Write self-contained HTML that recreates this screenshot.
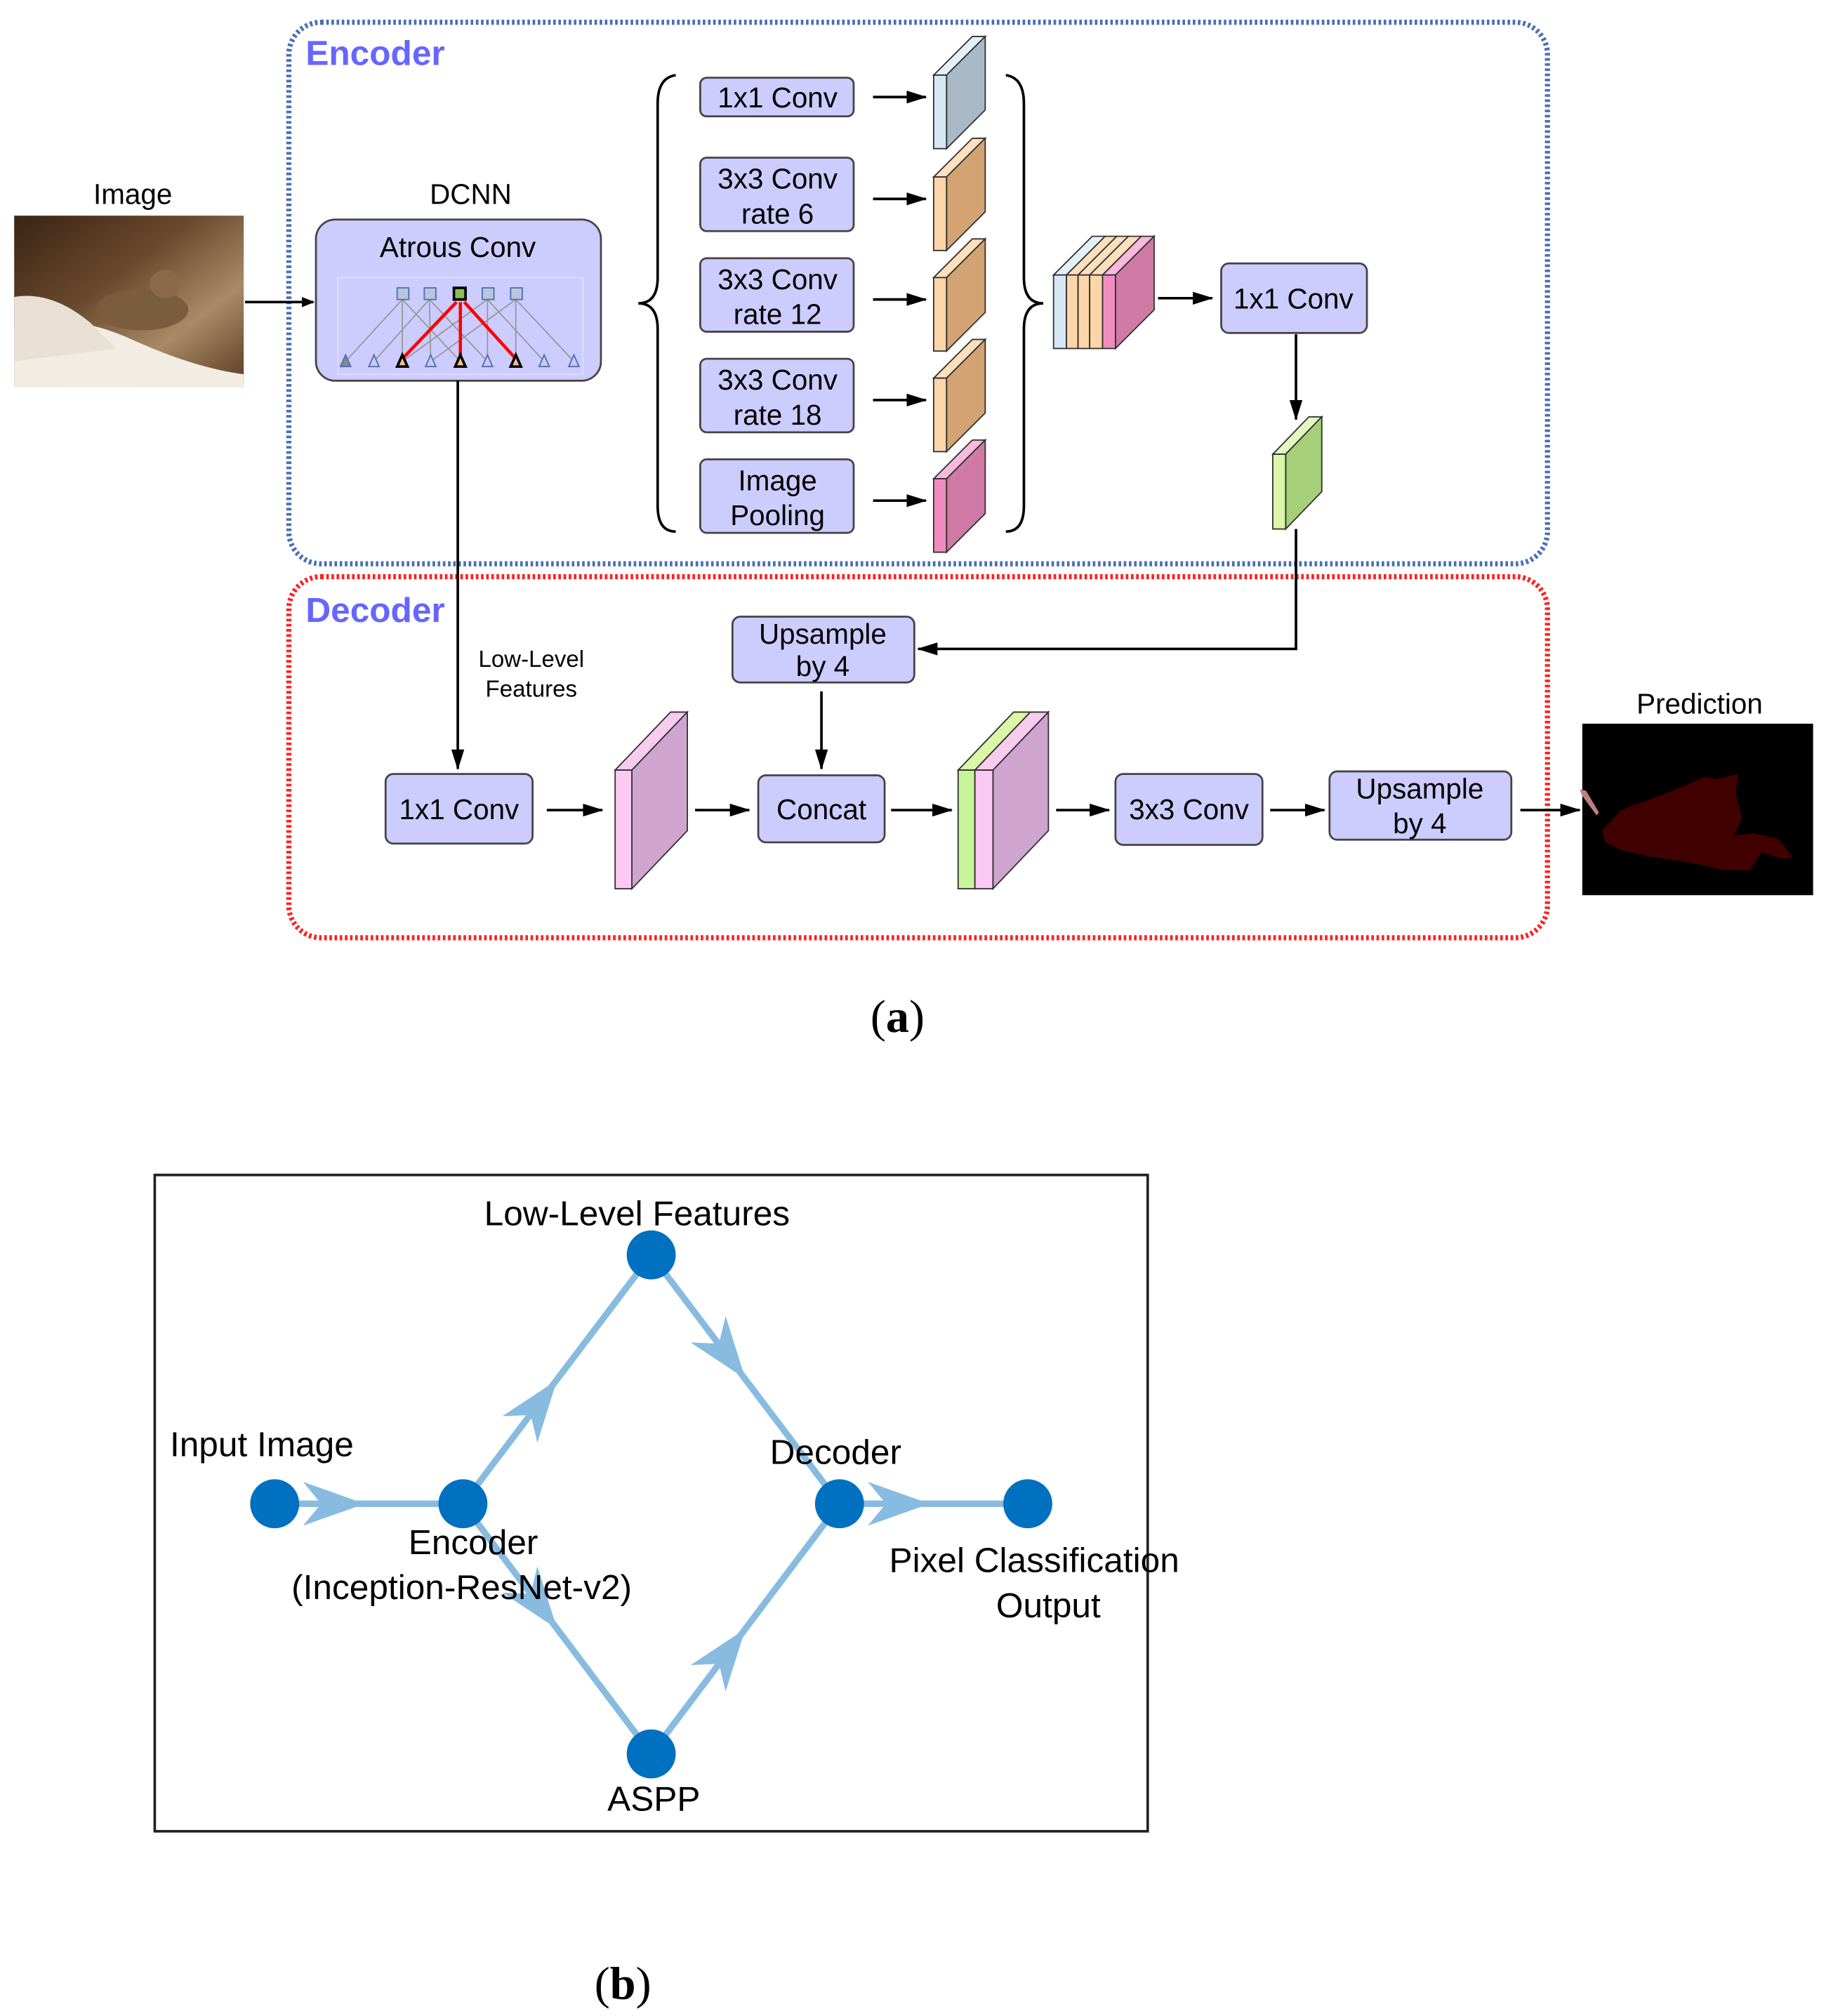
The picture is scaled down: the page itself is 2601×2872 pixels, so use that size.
<!DOCTYPE html>
<html><head><meta charset="utf-8"><style>
html,body{margin:0;padding:0;background:#fff;}
svg{display:block;}
text{font-family:"Liberation Sans",sans-serif;}
text.serif{font-family:"Liberation Serif",serif;}
</style></head><body>
<svg width="2601" height="2872" viewBox="0 0 1416 1563" xmlns="http://www.w3.org/2000/svg">
<defs>
<marker id="ah" markerWidth="10" markerHeight="10" refX="9" refY="5" orient="auto" markerUnits="userSpaceOnUse" viewBox="0 0 10 10">
<path d="M0,1 L10,5 L0,9 z" fill="#000"/></marker>
<marker id="ah2" markerWidth="16" markerHeight="10" refX="15" refY="5" orient="auto" markerUnits="userSpaceOnUse" viewBox="0 0 16 10">
<path d="M0,0 L16,5 L0,10 z" fill="#000"/></marker>
<linearGradient id="cat" x1="0" y1="0" x2="1" y2="1">
<stop offset="0" stop-color="#3a2414"/><stop offset="0.4" stop-color="#6a4a2e"/><stop offset="0.7" stop-color="#a88a66"/><stop offset="1" stop-color="#5a3a22"/></linearGradient>
</defs>

<rect x="224" y="17" width="976" height="420" rx="25" fill="none" stroke="#4a6fb5" stroke-width="4" stroke-dasharray="2 2"/>
<text x="237" y="50" font-size="27" font-weight="bold" fill="#6666ff">Encoder</text>
<rect x="224" y="447" width="976" height="280" rx="25" fill="none" stroke="#ff2020" stroke-width="4" stroke-dasharray="2 2"/>
<text x="237" y="482" font-size="27" font-weight="bold" fill="#6666ff">Decoder</text>

<text x="103" y="158" font-size="22" text-anchor="middle">Image</text>
<rect x="11" y="167" width="178" height="133" fill="url(#cat)"/>
<path d="M11,255 Q50,240 100,262 Q150,285 189,290 L189,300 L11,300z" fill="#f2ece2"/>
<path d="M11,230 Q40,225 70,250 L90,270 L11,280z" fill="#e8e0d4"/>
<ellipse cx="110" cy="240" rx="36" ry="16" fill="#7a5c3e"/>
<ellipse cx="128" cy="220" rx="12" ry="11" fill="#8a6a48"/>
<line x1="190" y1="234" x2="243" y2="234" stroke="#000" stroke-width="2" marker-end="url(#ah)"/>

<text x="365" y="158" font-size="22" text-anchor="middle">DCNN</text>
<rect x="245" y="170" width="221" height="125" rx="15" fill="#ccccff" stroke="#444" stroke-width="1.5"/>
<text x="355" y="199" font-size="22" text-anchor="middle">Atrous Conv</text>
<rect x="262" y="215" width="190" height="75" fill="none" stroke="#e0e0f4" stroke-width="1"/>
<g stroke="#999" stroke-width="1">
<line x1="268" y1="280" x2="312" y2="232"/><line x1="290" y1="280" x2="333" y2="232"/><line x1="312" y1="280" x2="312" y2="232"/><line x1="334" y1="280" x2="333" y2="232"/>
<line x1="312" y1="280" x2="378" y2="232"/><line x1="334" y1="280" x2="400" y2="232"/><line x1="378" y1="280" x2="378" y2="232"/><line x1="400" y1="280" x2="400" y2="232"/>
<line x1="357" y1="280" x2="312" y2="232"/><line x1="378" y1="280" x2="333" y2="232"/><line x1="422" y1="280" x2="378" y2="232"/><line x1="445" y1="280" x2="400" y2="232"/>
</g>
<g stroke="red" stroke-width="2.5"><line x1="312" y1="278" x2="354" y2="234"/><line x1="357" y1="278" x2="357" y2="234"/><line x1="400" y1="278" x2="360" y2="234"/></g>
<g fill="#bcc5dc" stroke="#4a6fb5" stroke-width="1"><rect x="308" y="223" width="9" height="9"/><rect x="329" y="223" width="9" height="9"/><rect x="374" y="223" width="9" height="9"/><rect x="396" y="223" width="9" height="9"/></g>
<rect x="352" y="223" width="9" height="9" fill="#8fbc50" stroke="#000" stroke-width="2"/>
<g stroke="#4a6fb5" stroke-width="1" fill="#d0c8ec">
<path d="M268,275 l-4,9 h8z" fill="#888"/><path d="M290,275 l-4,9 h8z"/><path d="M334,275 l-4,9 h8z"/><path d="M378,275 l-4,9 h8z"/><path d="M422,275 l-4,9 h8z"/><path d="M445,275 l-4,9 h8z"/>
</g>
<g stroke="#000" stroke-width="2" fill="#f6c08a"><path d="M312,275 l-4,9 h8z"/><path d="M357,275 l-4,9 h8z"/><path d="M400,275 l-4,9 h8z"/></g>

<path d="M524,58 Q510,60 510,80 L510,215 Q510,235 495,235 Q510,235 510,255 L510,392 Q510,412 524,412" fill="none" stroke="#000" stroke-width="2"/>
<path d="M780,58 Q794,60 794,80 L794,215 Q794,235 809,235 Q794,235 794,255 L794,392 Q794,412 780,412" fill="none" stroke="#000" stroke-width="2"/>

<g fill="#ccccff" stroke="#444" stroke-width="1.5">
<rect x="543" y="60" width="119" height="30" rx="5"/>
<rect x="543" y="122" width="119" height="57" rx="5"/>
<rect x="543" y="200" width="119" height="57" rx="5"/>
<rect x="543" y="278" width="119" height="57" rx="5"/>
<rect x="543" y="356" width="119" height="57" rx="5"/>
</g>
<g font-size="22" text-anchor="middle">
<text x="603" y="83">1x1 Conv</text>
<text x="603" y="146">3x3 Conv</text><text x="603" y="173">rate 6</text>
<text x="603" y="224">3x3 Conv</text><text x="603" y="251">rate 12</text>
<text x="603" y="302">3x3 Conv</text><text x="603" y="329">rate 18</text>
<text x="603" y="380">Image</text><text x="603" y="407">Pooling</text>
</g>
<g stroke="#000" stroke-width="2">
<line x1="677" y1="75" x2="718" y2="75" marker-end="url(#ah2)"/>
<line x1="677" y1="154" x2="718" y2="154" marker-end="url(#ah2)"/>
<line x1="677" y1="232" x2="718" y2="232" marker-end="url(#ah2)"/>
<line x1="677" y1="310" x2="718" y2="310" marker-end="url(#ah2)"/>
<line x1="677" y1="388" x2="718" y2="388" marker-end="url(#ah2)"/>
</g>
<g stroke="#333" stroke-width="1">
<path d="M724,58 L754,28 L764,28 L734,58z" fill="#e4f0f8"/><path d="M734,58 L764,28 L764,85 L734,115z" fill="#a9b9c6"/><rect x="724" y="58" width="10" height="57" fill="#d6e8f5"/>
<path d="M724,137 L754,107 L764,107 L734,137z" fill="#fde0bc"/><path d="M734,137 L764,107 L764,164 L734,194z" fill="#d4a373"/><rect x="724" y="137" width="10" height="57" fill="#fcd5a9"/>
<path d="M724,215 L754,185 L764,185 L734,215z" fill="#fde0bc"/><path d="M734,215 L764,185 L764,242 L734,272z" fill="#d4a373"/><rect x="724" y="215" width="10" height="57" fill="#fcd5a9"/>
<path d="M724,293 L754,263 L764,263 L734,293z" fill="#fde0bc"/><path d="M734,293 L764,263 L764,320 L734,350z" fill="#d4a373"/><rect x="724" y="293" width="10" height="57" fill="#fcd5a9"/>
<path d="M724,371 L754,341 L764,341 L734,371z" fill="#f9b8dc"/><path d="M734,371 L764,341 L764,398 L734,428z" fill="#cf7aa4"/><rect x="724" y="371" width="10" height="57" fill="#f08cc0"/>
</g>
<g stroke="#333" stroke-width="1">
<path d="M817,213 L847,183 L857,183 L827,213z" fill="#e4f0f8"/>
<path d="M827,213 L857,183 L866,183 L836,213z" fill="#fde0bc"/>
<path d="M836,213 L866,183 L875,183 L845,213z" fill="#fde0bc"/>
<path d="M845,213 L875,183 L885,183 L855,213z" fill="#fde0bc"/>
<path d="M855,213 L885,183 L895,183 L865,213z" fill="#f9b8dc"/>
<path d="M865,213 L895,183 L895,240 L865,270z" fill="#cf7aa4"/>
<rect x="817" y="213" width="10" height="57" fill="#d6e8f5"/>
<rect x="827" y="213" width="9" height="57" fill="#fcd5a9"/>
<rect x="836" y="213" width="9" height="57" fill="#fcd5a9"/>
<rect x="845" y="213" width="10" height="57" fill="#fcd5a9"/>
<rect x="855" y="213" width="10" height="57" fill="#f08cc0"/>
</g>
<line x1="898" y1="231" x2="940" y2="231" stroke="#000" stroke-width="2" marker-end="url(#ah2)"/>
<rect x="947" y="204" width="113" height="54" rx="6" fill="#ccccff" stroke="#444" stroke-width="1.5"/>
<text x="1003" y="239" font-size="22" text-anchor="middle">1x1 Conv</text>
<line x1="1005" y1="259" x2="1005" y2="325" stroke="#000" stroke-width="2" marker-end="url(#ah2)"/>
<g stroke="#333" stroke-width="1">
<path d="M987,352 L1015,323 L1025,323 L997,352z" fill="#e2f8c0"/><path d="M997,352 L1025,323 L1025,381 L997,410z" fill="#a6cf7a"/><rect x="987" y="352" width="10" height="58" fill="#d9f7a6"/>
</g>
<polyline points="1005,410 1005,503 712,503" fill="none" stroke="#000" stroke-width="2" marker-end="url(#ah2)"/>

<rect x="568" y="478" width="141" height="51" rx="6" fill="#ccccff" stroke="#444" stroke-width="1.5"/>
<text x="638" y="499" font-size="22" text-anchor="middle">Upsample</text><text x="638" y="524" font-size="22" text-anchor="middle">by 4</text>
<line x1="637" y1="536" x2="637" y2="596" stroke="#000" stroke-width="2" marker-end="url(#ah2)"/>
<line x1="355" y1="295" x2="355" y2="596" stroke="#000" stroke-width="2" marker-end="url(#ah2)"/>
<text x="412" y="517" font-size="18" text-anchor="middle">Low-Level</text><text x="412" y="540" font-size="18" text-anchor="middle">Features</text>

<g fill="#ccccff" stroke="#444" stroke-width="1.5">
<rect x="299" y="600" width="114" height="54" rx="6"/>
<rect x="588" y="601" width="98" height="52" rx="6"/>
<rect x="865" y="600" width="114" height="55" rx="6"/>
<rect x="1031" y="598" width="141" height="53" rx="6"/>
</g>
<g font-size="22" text-anchor="middle">
<text x="356" y="635">1x1 Conv</text><text x="637" y="635">Concat</text><text x="922" y="635">3x3 Conv</text>
<text x="1101" y="619">Upsample</text><text x="1101" y="646">by 4</text>
</g>
<g stroke="#000" stroke-width="2">
<line x1="424" y1="628" x2="467" y2="628" marker-end="url(#ah2)"/>
<line x1="539" y1="628" x2="581" y2="628" marker-end="url(#ah2)"/>
<line x1="691" y1="628" x2="738" y2="628" marker-end="url(#ah2)"/>
<line x1="819" y1="628" x2="860" y2="628" marker-end="url(#ah2)"/>
<line x1="985" y1="628" x2="1027" y2="628" marker-end="url(#ah2)"/>
<line x1="1179" y1="628" x2="1225" y2="628" marker-end="url(#ah2)"/>
</g>
<g stroke="#333" stroke-width="1">
<path d="M477,597 L520,552 L533,552 L490,597z" fill="#f7ccef"/><path d="M490,597 L533,552 L533,644 L490,689z" fill="#cfa4cf"/><rect x="477" y="597" width="13" height="92" fill="#fcc8f4"/>
<path d="M743,597 L786,552 L799,552 L756,597z" fill="#d9f7a6"/><path d="M756,597 L799,552 L813,552 L770,597z" fill="#f7ccef"/><path d="M770,597 L813,552 L813,644 L770,689z" fill="#cfa4cf"/><rect x="743" y="597" width="13" height="92" fill="#c8f59a"/><rect x="756" y="597" width="14" height="92" fill="#fcc8f4"/>
</g>

<text x="1318" y="553" font-size="22" text-anchor="middle">Prediction</text>
<rect x="1227" y="561" width="179" height="133" fill="#000"/>
<path d="M1242,644 L1257,628 L1297,613 L1323,602 L1330,604 L1348,600 L1346,615 L1351,635 L1344,648 L1359,646 L1379,650 L1390,664 L1383,666 L1366,661 L1357,675 L1334,674 L1312,669 L1279,664 L1257,659 L1245,653z" fill="#400000"/>
<path d="M1225,612 L1230,613 L1240,630 L1238,632 L1227,617z" fill="#c08080"/>

<text class="serif" x="696" y="800" font-size="36" text-anchor="middle">(<tspan font-weight="bold">a</tspan>)</text>

<rect x="120" y="911" width="770" height="509" fill="none" stroke="#222" stroke-width="2"/>
<g stroke="#88bbe0" stroke-width="5" fill="none">
<line x1="213" y1="1166" x2="359" y2="1166"/>
<line x1="359" y1="1166" x2="505" y2="973"/>
<line x1="359" y1="1166" x2="505" y2="1360"/>
<line x1="505" y1="973" x2="651" y2="1166"/>
<line x1="505" y1="1360" x2="651" y2="1166"/>
<line x1="651" y1="1166" x2="797" y2="1166"/>
</g>
<g fill="#88bbe0">
<path d="M0,0 L-48,-17 L-34,0 L-48,17z" transform="translate(283,1166)"/>
<path d="M0,0 L-48,-17 L-34,0 L-48,17z" transform="translate(721,1166)"/>
<path d="M0,0 L-48,-17 L-34,0 L-48,17z" transform="translate(432,1070) rotate(-53)"/>
<path d="M0,0 L-48,-17 L-34,0 L-48,17z" transform="translate(432,1263) rotate(53)"/>
<path d="M0,0 L-48,-17 L-34,0 L-48,17z" transform="translate(578,1069) rotate(53)"/>
<path d="M0,0 L-48,-17 L-34,0 L-48,17z" transform="translate(578,1263) rotate(-53)"/>
</g>
<g fill="#0070c0">
<circle cx="213" cy="1166" r="19"/><circle cx="359" cy="1166" r="19"/><circle cx="505" cy="973" r="19"/>
<circle cx="505" cy="1360" r="19"/><circle cx="651" cy="1166" r="19"/><circle cx="797" cy="1166" r="19"/>
</g>
<g font-size="27" text-anchor="middle" fill="#000">
<text x="494" y="950">Low-Level Features</text>
<text x="203" y="1129">Input Image</text>
<text x="367" y="1205">Encoder</text>
<text x="358" y="1240">(Inception-ResNet-v2)</text>
<text x="648" y="1135">Decoder</text>
<text x="802" y="1219">Pixel Classification</text>
<text x="813" y="1254">Output</text>
<text x="507" y="1404">ASPP</text>
</g>
<text class="serif" x="483" y="1550" font-size="36" text-anchor="middle">(<tspan font-weight="bold">b</tspan>)</text>
</svg>
</body></html>
